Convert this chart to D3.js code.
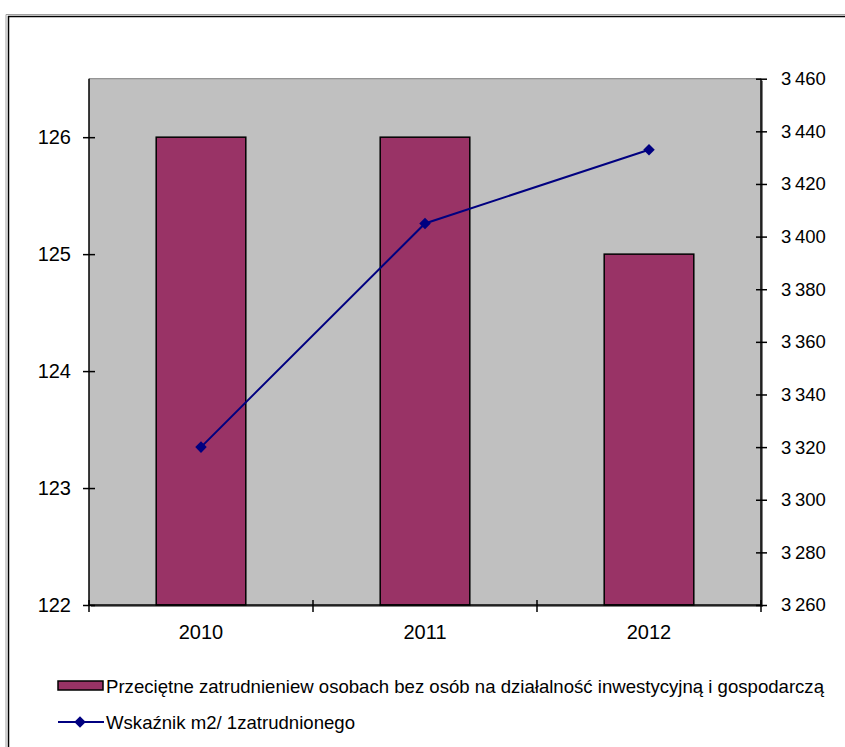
<!DOCTYPE html>
<html><head><meta charset="utf-8">
<script src="https://cdn.jsdelivr.net/npm/d3@7"></script>
<style>html,body{margin:0;padding:0;background:#fff;}svg{display:block;font-family:"Liberation Sans",Arial,sans-serif;}</style>
</head><body>
<svg id="c" width="845" height="747"></svg>
<script>
const categories = ["2010", "2011", "2012"];
const barValues = [126, 126, 125];
const lineValues = [3320, 3405, 3433];
const leftTicks = [122, 123, 124, 125, 126];
const rightTicks = [3260, 3280, 3300, 3320, 3340, 3360, 3380, 3400, 3420, 3440, 3460];
const barLabel = "Przeciętne zatrudnieniew osobach bez osób na działalność inwestycyjną i gospodarczą";
const lineLabel = "Wskaźnik m2/ 1zatrudnionego";

const svg = d3.select("#c");
const L = 89, R = 761, T = 78.7, B = 605;

// outer frame
svg.append("path").attr("d", "M6,760 V14.5 H860").attr("fill", "none").attr("stroke", "#a0a0a0").attr("stroke-width", 1);
svg.append("path").attr("d", "M8.5,760 V16.5 H860").attr("fill", "none").attr("stroke", "#000").attr("stroke-width", 1.5);

const x = d3.scaleBand().domain(categories).range([L, R]).paddingInner(0.6).paddingOuter(0.3);
const xc = d3.scaleBand().domain(categories).range([L, R]);
const yL = d3.scaleLinear().domain([122, 126.5]).range([B, T]);
const yR = d3.scaleLinear().domain([3260, 3460]).range([B, T]);

// plot area
svg.append("rect").attr("x", L + 2).attr("y", T + 2).attr("width", R - L).attr("height", B - T).attr("fill", "#808080");
svg.append("rect").attr("x", L).attr("y", T).attr("width", R - L).attr("height", B - T).attr("fill", "#c0c0c0");
svg.append("line").attr("x1", L).attr("x2", R).attr("y1", T).attr("y2", T).attr("stroke", "#808080").attr("stroke-width", 1);

// bars
svg.selectAll("rect.bar").data(categories).enter().append("rect").attr("class", "bar")
  .attr("x", d => x(d)).attr("width", x.bandwidth())
  .attr("y", (d, i) => yL(barValues[i])).attr("height", (d, i) => B - yL(barValues[i]))
  .attr("fill", "#993366").attr("stroke", "#000").attr("stroke-width", 1.5);

// left axis
const gL = svg.append("g").attr("transform", `translate(${L},0)`)
  .call(d3.axisLeft(yL).tickValues(leftTicks).tickSize(6).tickPadding(12).tickFormat(d3.format("d")));
gL.select(".domain").attr("d", `M0,${T}V${B}`).attr("stroke", "#000").attr("stroke-width", 1.5);
gL.selectAll(".tick line").attr("x1", -6).attr("x2", 6).attr("stroke", "#000").attr("stroke-width", 1.5);
gL.selectAll(".tick text").attr("font-size", 20).attr("fill", "#000").attr("font-family", "Liberation Sans, Arial, sans-serif");

// right axis
const fmtR = d => { const s = String(d); return s.slice(0, 1) + "\u2009" + s.slice(1); };
const gR = svg.append("g").attr("transform", `translate(${R},0)`)
  .call(d3.axisRight(yR).tickValues(rightTicks).tickSize(6).tickPadding(14).tickFormat(fmtR));
gR.select(".domain").attr("d", `M0,${T}V${B}`).attr("stroke", "#000").attr("stroke-width", 1.5);
gR.selectAll(".tick line").attr("x1", -5).attr("x2", 6).attr("stroke", "#000").attr("stroke-width", 1.5);
gR.selectAll(".tick text").attr("font-size", 18.5).attr("fill", "#000").attr("font-family", "Liberation Sans, Arial, sans-serif");

// bottom axis
const gB = svg.append("g").attr("transform", `translate(0,${B})`)
  .call(d3.axisBottom(xc).tickSize(0).tickPadding(20));
gB.select(".domain").attr("d", `M${L},0H${R}`).attr("stroke", "#000").attr("stroke-width", 1.5);
gB.selectAll(".tick text").attr("font-size", 20).attr("fill", "#000").attr("font-family", "Liberation Sans, Arial, sans-serif");
// category separator ticks
const seps = [0, 1, 2, 3].map(i => L + i * xc.step());
svg.selectAll("line.sep").data(seps).enter().append("line").attr("class", "sep")
  .attr("x1", d => d).attr("x2", d => d).attr("y1", B - 5).attr("y2", B + 7)
  .attr("stroke", "#000").attr("stroke-width", 1.5);

// line series
const cx = d => xc(d) + xc.bandwidth() / 2;
const line = d3.line().x((d, i) => cx(categories[i])).y(d => yR(d));
svg.append("path").datum(lineValues).attr("d", line).attr("fill", "none").attr("stroke", "#000080").attr("stroke-width", 2);
const diamond = d3.symbol().type(d3.symbolDiamond2).size(85);
svg.selectAll("path.mk").data(lineValues).enter().append("path").attr("class", "mk")
  .attr("d", diamond).attr("transform", (d, i) => `translate(${cx(categories[i])},${yR(d)})`)
  .attr("fill", "#000080");

// legend
const lg = svg.append("g");
lg.append("rect").attr("x", 58).attr("y", 681).attr("width", 45).attr("height", 9)
  .attr("fill", "#993366").attr("stroke", "#000").attr("stroke-width", 1.5);
lg.append("text").attr("x", 106).attr("y", 693).attr("font-size", 19)
  .attr("textLength", 718).attr("lengthAdjust", "spacingAndGlyphs").text(barLabel);
lg.append("line").attr("x1", 58).attr("x2", 104).attr("y1", 722).attr("y2", 722).attr("stroke", "#000080").attr("stroke-width", 2);
lg.append("path").attr("d", diamond).attr("transform", "translate(80,722)").attr("fill", "#000080");
lg.append("text").attr("x", 106).attr("y", 729).attr("font-size", 19)
  .attr("textLength", 249).attr("lengthAdjust", "spacingAndGlyphs").text(lineLabel);
</script>
</body></html>
